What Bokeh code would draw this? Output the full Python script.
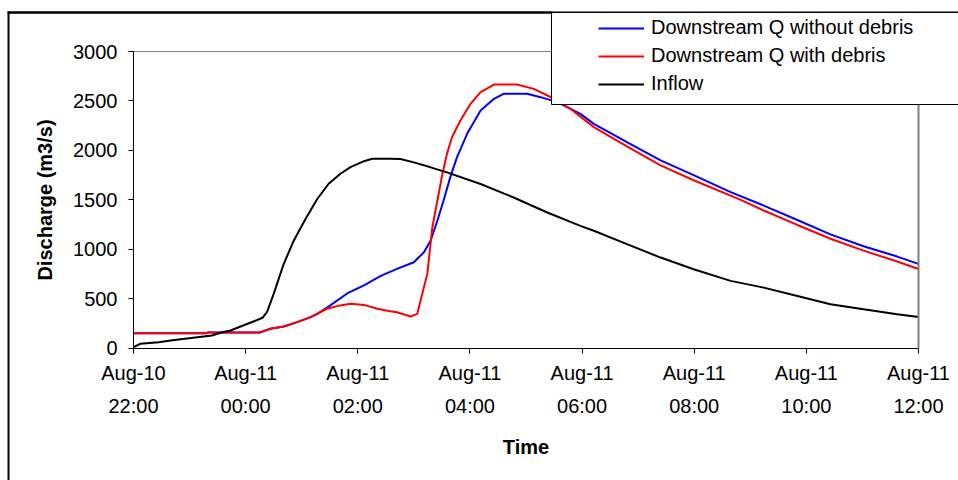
from bokeh.plotting import figure
from bokeh.models import (Range1d, FixedTicker, Legend, LegendItem, BoxAnnotation,
                          LinearAxis)
from bokeh.embed import file_html
from bokeh.resources import INLINE

# Time axis: hours after Aug-10 22:00
tick_hours = [0, 2, 4, 6, 8, 10, 12, 14]
tick_labels = ["Aug-10\n22:00", "Aug-11\n00:00", "Aug-11\n02:00", "Aug-11\n04:00",
               "Aug-11\n06:00", "Aug-11\n08:00", "Aug-11\n10:00", "Aug-11\n12:00"]
y_ticks = [0, 500, 1000, 1500, 2000, 2500, 3000]

inflow_t = [0, 0.12, 0.45, 0.66, 1.14, 1.40, 1.58, 1.73, 1.91, 2.15, 2.30, 2.38, 2.50,
            2.68, 2.86, 3.07, 3.28, 3.48, 3.69, 3.87, 4.11, 4.26, 4.58, 4.76, 5.00,
            5.30, 5.59, 6.19, 6.78, 7.38, 7.97, 8.21, 8.80, 9.40, 9.99, 10.65, 11.24,
            11.84, 12.43, 13.02, 13.62, 14.0]
inflow_q = [8, 42, 59, 76, 109, 126, 160, 177, 218, 271, 306, 362, 548,
            852, 1088, 1307, 1510, 1662, 1763, 1830, 1890, 1915, 1915, 1912, 1878,
            1828, 1777, 1659, 1523, 1371, 1236, 1186, 1051, 915, 797, 679, 611,
            527, 443, 392, 341, 314]

with_t = [0, 1.30, 1.33, 2.26, 2.44, 2.68, 2.92, 3.16, 3.45, 3.69, 3.87, 4.11, 4.35,
          4.58, 4.70, 4.94, 5.06, 5.15, 5.24, 5.33, 5.42, 5.51, 5.59, 5.68, 5.83,
          6.01, 6.19, 6.43, 6.84, 7.14, 7.50, 7.79, 8.21, 8.80, 9.40, 10.0, 10.83,
          11.24, 11.84, 12.43, 13.02, 13.62, 14.0]
with_q = [150, 150, 158, 158, 195, 218, 262, 312, 397, 431, 447, 436, 397,
          372, 362, 318, 345, 548, 750, 1222, 1492, 1763, 1964, 2133, 2302,
          2471, 2589, 2666, 2666, 2622, 2522, 2420, 2235, 2039, 1847, 1695, 1499,
          1391, 1245, 1105, 985, 875, 800]

without_t = [0, 1.30, 1.33, 2.26, 2.44, 2.68, 2.92, 3.16, 3.28, 3.51, 3.81, 4.11,
             4.41, 4.70, 5.00, 5.18, 5.30, 5.42, 5.53, 5.65, 5.77, 5.95, 6.19, 6.43,
             6.60, 7.02, 7.26, 7.56, 7.97, 8.21, 8.80, 9.40, 10.0, 10.65, 11.24,
             11.84, 12.43, 13.02, 13.62, 14.0]
without_q = [150, 150, 158, 158, 195, 218, 262, 312, 345, 431, 552, 633,
             730, 800, 868, 969, 1088, 1290, 1492, 1729, 1931, 2167, 2403, 2521,
             2572, 2572, 2538, 2488, 2369, 2268, 2083, 1898, 1746, 1577, 1441,
             1295, 1150, 1030, 925, 851]

FONT = "Liberation Sans"
W, H = 958, 480
# plot-area placement on the canvas (pixels)
PL, PR, PT, PB = 133, 918, 51, 347.5
X0, X1 = tick_hours[0], tick_hours[-1]
Y0, Y1 = y_ticks[0], y_ticks[-1]
xppu = (PR - PL) / (X1 - X0)
yppu = (PB - PT) / (Y1 - Y0)
x_start = X0 - PL / xppu
y_end = Y1 + PT / yppu

p = figure(width=W, height=H, output_backend="svg", toolbar_location=None,
           x_range=Range1d(x_start, x_start + W / xppu),
           y_range=Range1d(y_end - H / yppu, y_end), title=None,
           min_border_left=0, min_border_right=0, min_border_top=0,
           min_border_bottom=0)
p.background_fill_color = "white"
p.border_fill_color = "white"
p.xgrid.visible = False
p.ygrid.visible = False
p.outline_line_color = None

r_without = p.line(without_t, without_q, line_color="#0000FF", line_width=2)
r_with = p.line(with_t, with_q, line_color="#FF0000", line_width=2)
r_inflow = p.line(inflow_t, inflow_q, line_color="black", line_width=2)

for ax in (p.xaxis[0], p.yaxis[0]):
    ax.axis_line_color = "black"
    ax.axis_line_width = 1
    ax.major_tick_line_color = "black"
    ax.major_tick_in = 0
    ax.major_tick_out = 5
    ax.minor_tick_line_color = None
    ax.major_label_text_font = FONT
    ax.major_label_text_font_size = "20px"
    ax.major_label_text_color = "black"
    ax.axis_label_text_font = FONT
    ax.axis_label_text_font_size = "20px"
    ax.axis_label_text_font_style = "bold"
    ax.axis_label_text_color = "black"

xa = p.xaxis[0]
xa.fixed_location = Y0
xa.bounds = (X0, X1)
xa.ticker = FixedTicker(ticks=tick_hours)
xa.major_label_overrides = {h: lab for h, lab in zip(tick_hours, tick_labels)}
xa.major_label_text_line_height = 1.5
xa.major_label_standoff = 9
xa.axis_label = "Time"
xa.axis_label_standoff = 15

ya = p.yaxis[0]
ya.fixed_location = X0
ya.bounds = (Y0, Y1)
ya.ticker = FixedTicker(ticks=y_ticks)
ya.major_label_standoff = 11
ya.axis_label = "Discharge (m3/s)"
ya.axis_label_standoff = 14

def bare_axis(loc, bounds, color, width):
    return LinearAxis(fixed_location=loc, bounds=bounds, ticker=FixedTicker(ticks=[]),
                      axis_line_color=color, axis_line_width=width,
                      major_label_text_font_size="0px", major_label_standoff=0,
                      minor_tick_line_color=None, major_tick_line_color=None)

# grey plot-area border on top and right
p.add_layout(bare_axis(Y1, (X0, X1), "#808080", 1), "above")
p.add_layout(bare_axis(X1, (Y0, Y1), "#808080", 2), "right")

# outer chart border: top edge at canvas y=12, left edge at canvas x=8
outer_y = y_end - 12 / yppu
outer_x = x_start + 8 / xppu
p.add_layout(bare_axis(outer_y, (outer_x, x_start + (W + 20) / xppu), "black", 2), "above")

CANVAS = dict(left_units="canvas", right_units="canvas",
              top_units="canvas", bottom_units="canvas")
outer_left = BoxAnnotation(left=7, right=9, top=11, bottom=H + 20, level="overlay",
                           fill_color="black", fill_alpha=1, line_alpha=0, **CANVAS)
outer_top = BoxAnnotation(left=7, right=552, top=11, bottom=13, level="overlay",
                          fill_color="black", fill_alpha=1, line_alpha=0, **CANVAS)
legend_box = BoxAnnotation(left=551, right=W + 20, top=12, bottom=104,
                           fill_color="white", fill_alpha=1,
                           line_color="black", line_alpha=1, line_width=1, **CANVAS)
p.add_layout(outer_left)
p.add_layout(outer_top)
p.add_layout(legend_box)

legend = Legend(items=[
    LegendItem(label="Downstream Q without debris", renderers=[r_without]),
    LegendItem(label="Downstream Q with debris", renderers=[r_with]),
    LegendItem(label="Inflow", renderers=[r_inflow]),
], location=(598, H - 95.5), padding=0, spacing=4, glyph_width=46, glyph_height=24,
    label_height=24, label_standoff=7, border_line_alpha=0,
    background_fill_alpha=0, label_text_font=FONT, label_text_font_size="20px",
    label_text_color="black")
p.add_layout(legend)

open("out.html", "w").write(file_html(p, INLINE))
